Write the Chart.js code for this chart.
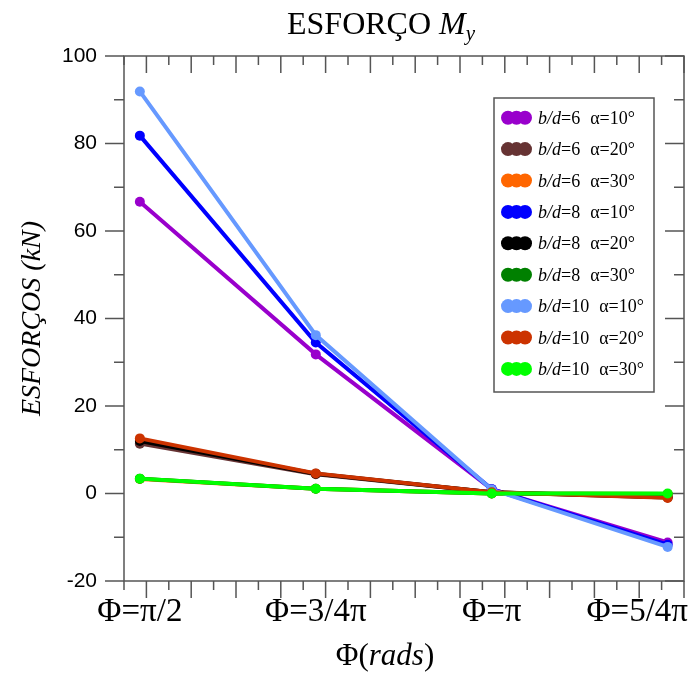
<!DOCTYPE html>
<html>
<head>
<meta charset="utf-8">
<title>Esforço My</title>
<script src="https://cdn.jsdelivr.net/npm/chart.js@4.4.1/dist/chart.umd.min.js"></script>
<style>
  html, body { margin: 0; padding: 0; background: #fff; }
  #mycanvas { display: block; }
</style>
</head>
<body>
<canvas id="mycanvas" width="689" height="675"></canvas>
<script>
// angle positions (rad) and their labels
var phiValues = [Math.PI / 2, 3 * Math.PI / 4, Math.PI, 5 * Math.PI / 4];
var phiLabels = ['Φ=π/2', 'Φ=3/4π', 'Φ=π', 'Φ=5/4π'];

// series: b/d ratio and alpha angle
var bdValues = [6, 6, 6, 8, 8, 8, 10, 10, 10];
var alphaValues = [10, 20, 30, 10, 20, 30, 10, 20, 30];
var seriesColors = ['#9900CC', '#663333', '#FF6600', '#0000FF', '#000000', '#008000', '#6699FF', '#CC3300', '#00FF00'];

// My (kN) at each angle
var bd6a10 = [66.7, 31.8, 1.0, -11.2];
var bd6a20 = [11.4, 4.4, 0.3, -0.8];
var bd6a30 = [3.3, 1.1, 0.0, -0.1];
var bd8a10 = [81.8, 34.5, 1.0, -11.7];
var bd8a20 = [12.0, 4.5, 0.3, -0.9];
var bd8a30 = [3.4, 1.1, 0.0, -0.1];
var bd10a10 = [91.9, 36.2, 0.9, -12.2];
var bd10a20 = [12.6, 4.6, 0.3, -1.0];
var bd10a30 = [3.4, 1.1, 0.0, 0.0];

var seriesValues = [bd6a10, bd6a20, bd6a30, bd8a10, bd8a20, bd8a30, bd10a10, bd10a20, bd10a30];

var serif = '"Liberation Serif", "Times New Roman", serif';
var sans = '"Liberation Sans", Arial, sans-serif';

var datasets = [];
for (var i = 0; i < seriesValues.length; i++) {
    var pts = [];
    for (var j = 0; j < phiValues.length; j++) {
        pts.push({ x: phiValues[j], y: seriesValues[i][j] });
    }
    datasets.push({
        label: 'b/d=' + bdValues[i] + '  α=' + alphaValues[i] + '°',
        data: pts,
        showLine: true,
        fill: false,
        borderColor: seriesColors[i],
        backgroundColor: seriesColors[i],
        borderWidth: 4,
        pointRadius: 5,
        pointBorderWidth: 0,
        order: seriesValues.length - i
    });
}

// draws a run of text pieces with their own fonts, left to right
function drawRuns(ctx, runs, x, y, align) {
    var total = 0;
    runs.forEach(function (r) { ctx.font = r.font; r.w = ctx.measureText(r.text).width; total += r.w; });
    var cx = align === 'center' ? x - total / 2 : x;
    runs.forEach(function (r) {
        ctx.font = r.font;
        ctx.fillText(r.text, cx, y + (r.dy || 0));
        cx += r.w;
    });
    return total;
}

var framePlugin = {
    id: 'frame',
    beforeDatasetsDraw: function (chart) {
        var ctx = chart.ctx, a = chart.chartArea;
        var xs = chart.scales.x, ys = chart.scales.y;
        ctx.save();
        ctx.strokeStyle = '#555';
        ctx.lineWidth = 1.5;
        ctx.strokeRect(a.left, a.top, a.right - a.left, a.bottom - a.top);
        ctx.beginPath();
        // x ticks every 0.1 rad, long ones every 0.2
        for (var k = 15; k <= 40; k++) {
            var px = xs.getPixelForValue(k / 10);
            var len = (k % 2 === 0) ? 17 : 9;
            ctx.moveTo(px, a.bottom); ctx.lineTo(px, a.bottom + len);
            ctx.moveTo(px, a.top); ctx.lineTo(px, a.top + len);
        }
        // y ticks every 10, long ones every 20
        for (var v = -20; v <= 100; v += 10) {
            var py = ys.getPixelForValue(v);
            var ylen = (v % 20 === 0) ? 19 : 10;
            ctx.moveTo(a.left, py); ctx.lineTo(a.left - ylen, py);
            ctx.moveTo(a.right, py); ctx.lineTo(a.right - ylen, py);
        }
        ctx.stroke();
        ctx.restore();
    },
    afterDraw: function (chart) {
        var ctx = chart.ctx, a = chart.chartArea;
        var xs = chart.scales.x;
        ctx.save();
        ctx.fillStyle = '#000';
        ctx.textBaseline = 'alphabetic';

        // title
        ctx.textAlign = 'left';
        drawRuns(ctx, [
            { text: 'ESFORÇO ', font: '32px ' + serif },
            { text: 'M', font: 'italic 32px ' + serif },
            { text: 'y', font: 'italic 21px ' + serif, dy: 6 }
        ], 381, 34, 'center');

        // angle labels under the axis
        ctx.font = '33px ' + serif;
        for (var i = 0; i < phiValues.length; i++) {
            var w = ctx.measureText(phiLabels[i]).width;
            var cx = xs.getPixelForValue(phiValues[i]);
            cx = Math.min(cx, chart.width - 1 - w / 2);
            ctx.textAlign = 'center';
            ctx.fillText(phiLabels[i], cx, 621);
        }

        // x axis title
        ctx.textAlign = 'left';
        drawRuns(ctx, [
            { text: 'Φ(', font: '31px ' + serif },
            { text: 'rads', font: 'italic 31px ' + serif },
            { text: ')', font: '31px ' + serif }
        ], 385, 665, 'center');

        // legend box
        var lx = 494, ly = 98, lw = 160, lh = 294;
        ctx.fillStyle = '#fff';
        ctx.fillRect(lx, ly, lw, lh);
        ctx.strokeStyle = '#555';
        ctx.lineWidth = 1.5;
        ctx.strokeRect(lx, ly, lw, lh);
        chart.data.datasets.forEach(function (ds, n) {
            var ry = 117.7 + n * 31.4;
            ctx.fillStyle = ds.borderColor;
            [508, 516.5, 525].forEach(function (mx) {
                ctx.beginPath();
                ctx.arc(mx, ry, 7, 0, Math.PI * 2);
                ctx.fill();
            });
            ctx.fillStyle = '#000';
            var tw = drawRuns(ctx, [
                { text: 'b/d', font: 'italic 18px ' + serif },
                { text: '=' + bdValues[n], font: '18px ' + serif }
            ], 538, ry + 6, 'left');
            ctx.font = '18px ' + serif;
            ctx.fillText('α=' + alphaValues[n] + '°', 538 + tw + 10, ry + 6);
        });
        ctx.restore();
    }
};

var ctx = document.getElementById('mycanvas');
var LineGraph = new Chart(ctx, {
    type: 'scatter',
    data: { datasets: datasets },
    options: {
        responsive: false,
        animation: false,
        layout: { padding: { top: 56, right: 1, left: 0, bottom: 0 } },
        plugins: {
            legend: { display: false },
            tooltip: { enabled: false },
            title: { display: false }
        },
        scales: {
            x: {
                type: 'linear',
                min: 1.5,
                max: 4.0,
                grid: { display: false, drawTicks: false },
                border: { display: false },
                ticks: { display: false },
                afterFit: function (s) { s.height = 94; }
            },
            y: {
                min: -20,
                max: 100,
                grid: { display: false, drawTicks: false },
                border: { display: false },
                ticks: {
                    stepSize: 20,
                    color: '#000',
                    padding: 27,
                    font: { family: sans, size: 21 }
                },
                title: {
                    display: true,
                    text: 'ESFORÇOS (kN)',
                    color: '#000',
                    font: { family: serif, style: 'italic', size: 28 },
                    padding: { top: 16, bottom: 0 }
                },
                afterFit: function (s) { s.width = 124; }
            }
        }
    },
    plugins: [framePlugin]
});
</script>
</body>
</html>
